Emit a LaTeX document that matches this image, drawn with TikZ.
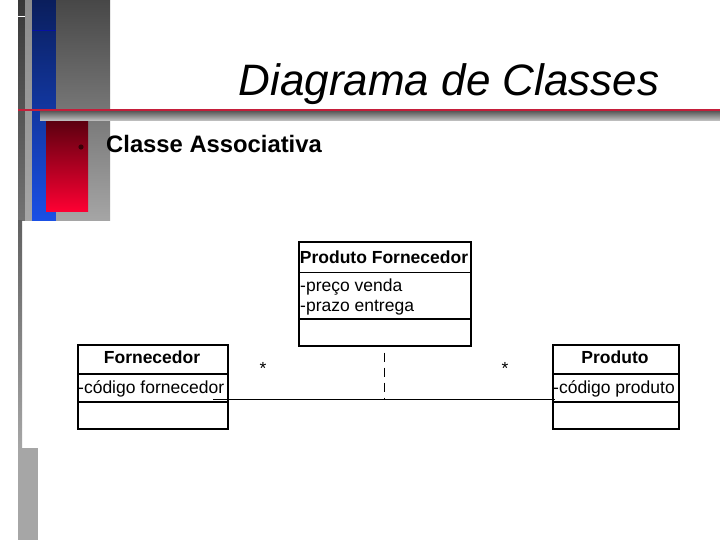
\documentclass[tikz,border=0pt]{standalone}
\usepackage{fontspec}
\setmainfont{Liberation Sans}
\usetikzlibrary{calc}
\definecolor{navy}{HTML}{0A1E5C}
\definecolor{brightblue}{HTML}{1A50E6}
\definecolor{slidered}{HTML}{C41E3A}
\definecolor{darkred}{HTML}{5E0010}
\definecolor{brightred}{HTML}{FF0033}
\definecolor{bulletred}{HTML}{3A0008}
\tikzset{
  umlbox/.style={draw=black, line width=1.7pt, fill=white, inner sep=0pt, anchor=north west},
  divider/.style={line width=1.7pt},
  hdr/.style={font=\bfseries\fontsize{17.5}{20}\selectfont, inner sep=0pt, anchor=base},
  attr/.style={font=\fontsize{17.5}{20}\selectfont, inner sep=0pt, anchor=base west},
  mult/.style={font=\fontsize{17.5}{20}\selectfont, inner sep=0pt, anchor=base},
  assoc/.style={line width=1pt},
  assocdash/.style={line width=1.2pt, dash pattern=on 9pt off 6pt, dash phase=9pt}
}
\begin{document}
\begin{tikzpicture}[x=1pt,y=-1pt]
\useasboundingbox (0,0) rectangle (720,540);
\fill[white] (0,0) rectangle (720,540);
% slide decoration
\shade[top color=black!78, bottom color=black!55] (18,0) rectangle (25,221);
\shade[top color=black!45, bottom color=black!35] (25,0) rectangle (32,221);
\shade[top color=navy, bottom color=brightblue] (32,0) rectangle (56,221);
\shade[top color=black!72, bottom color=black!35] (56,0) rectangle (110,221);
\shade[top color=black!62, bottom color=black!35] (18,221) rectangle (22,448);
\fill[black!35] (18,448) rectangle (38,540);
\draw[white, line width=1pt] (18,17) -- (25,17);
\draw[blue!45!navy, line width=0.6pt] (32,30) -- (56,30);
\shade[top color=black!65, bottom color=black!22] (40,111) rectangle (720,121);
\draw[slidered, line width=2pt] (18,110) -- (720,110);
\shade[top color=darkred, bottom color=brightred] (46,122) rectangle (88,212);
% title
\node[font=\itshape\fontsize{44}{50}\selectfont, inner sep=0pt, anchor=base] (title) at (449,96) {Diagrama de Classes};
\fill[bulletred] (81,147) circle (2.6);
\node[font=\bfseries\fontsize{23.8}{28}\selectfont, inner sep=0pt, anchor=base west] (sub) at (106,153) {Classe Associativa};
% association end points
\coordinate (a1) at (213,399);
\coordinate (a2) at (555,399);
% boxes
\node[umlbox, minimum width=172pt, minimum height=104pt] (pf) at (298,241) {};
\draw[divider] (pf.west |- 0,272.5) -- (pf.east |- 0,272.5);
\draw[divider] (pf.west |- 0,319) -- (pf.east |- 0,319);
\node[hdr] (pft) at (384,263) {Produto Fornecedor};
\node[attr] (pfa1) at (300,291) {-preço venda};
\node[attr] (pfa2) at (300,311) {-prazo entrega};

\node[umlbox, minimum width=150pt, minimum height=84pt] (forn) at (77,344) {};
\draw[divider] (forn.west |- 0,374) -- (forn.east |- 0,374);
\draw[divider] (forn.west |- 0,402) -- (forn.east |- 0,402);
\node[hdr] (fornt) at (152,363) {Fornecedor};
\node[attr] (forna) at (78,393) {-código fornecedor};

\node[umlbox, minimum width=126pt, minimum height=84pt] (prod) at (552,344) {};
\draw[divider] (prod.west |- 0,374) -- (prod.east |- 0,374);
\draw[divider] (prod.west |- 0,402) -- (prod.east |- 0,402);
\node[hdr] (prodt) at (615,363) {Produto};
\node[attr] (proda) at (553,393) {-código produto};

\draw[assoc] (a1) -- (a2);
\draw[assocdash] (pf.south) -- (pf.south |- a1);
\node[mult] (m1) at (263,374) {*};
\node[mult] (m2) at (505,374) {*};
\end{tikzpicture}
\end{document}
